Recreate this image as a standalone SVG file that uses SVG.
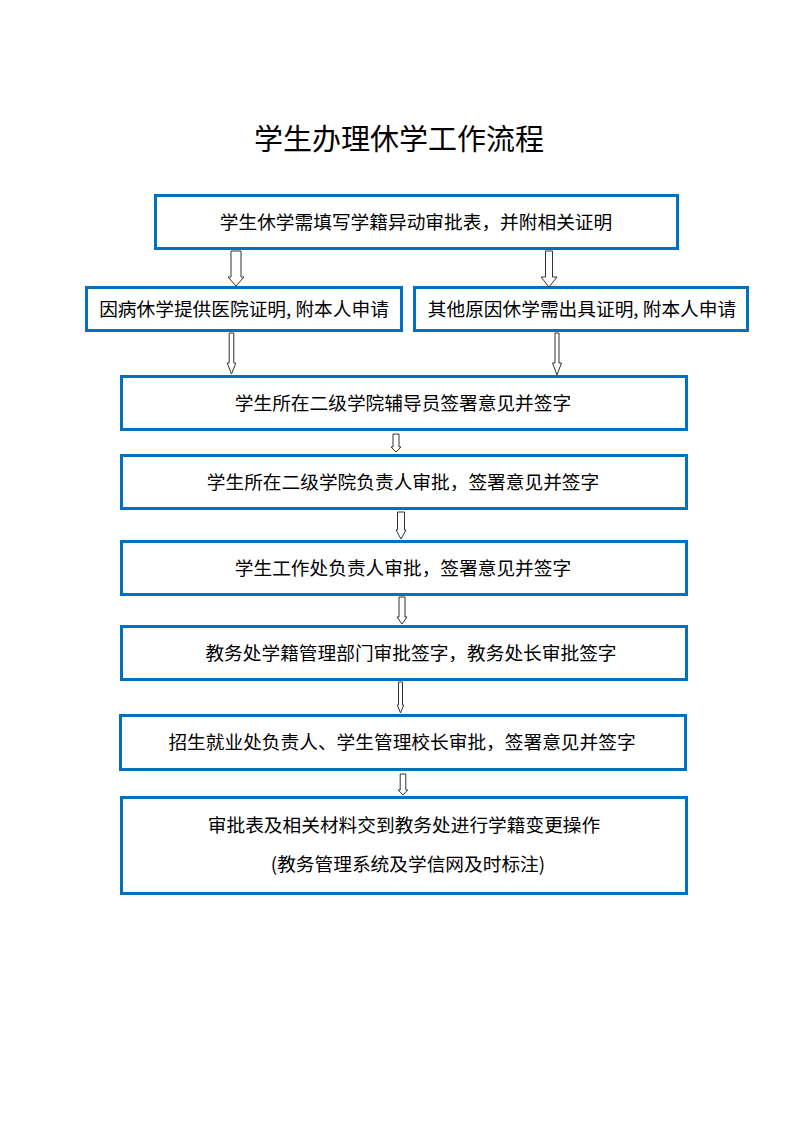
<svg xmlns="http://www.w3.org/2000/svg" width="793" height="1122" viewBox="0 0 793 1122">
<style>
.box{fill:#fff;stroke:#0070C0;stroke-width:3}
.t{font-family:"Noto Sans CJK SC","Microsoft YaHei",sans-serif;font-size:18.7px;fill:#000;text-anchor:middle}
.title{font-family:"Noto Sans CJK SC",sans-serif;font-size:29px;fill:#000;text-anchor:middle}
.arr{fill:#fff;stroke:#333;stroke-width:1}
</style>
<rect width="793" height="1122" fill="#fff"/>
<text class="title" x="399" y="150">学生办理休学工作流程</text>
<g id="n1"><rect class="box" x="155.5" y="195.5" width="522" height="53"/><text class="t" x="416" y="228.5">学生休学需填写学籍异动审批表，并附相关证明</text></g>
<g id="n2a"><rect class="box" x="86.5" y="287.5" width="315" height="43"/><text class="t" x="244" y="315.5">因病休学提供医院证明, 附本人申请</text></g>
<g id="n2b"><rect class="box" x="414.5" y="287.5" width="333" height="43"/><text class="t" x="582" y="315.5">其他原因休学需出具证明, 附本人申请</text></g>
<g id="n3"><rect class="box" x="121.5" y="376.5" width="565" height="53"/><text class="t" x="403" y="409.5">学生所在二级学院辅导员签署意见并签字</text></g>
<g id="n4"><rect class="box" x="121.5" y="455.5" width="565" height="53"/><text class="t" x="403" y="488.5">学生所在二级学院负责人审批，签署意见并签字</text></g>
<g id="n5"><rect class="box" x="121.5" y="541.5" width="565" height="53"/><text class="t" x="403" y="574.5">学生工作处负责人审批，签署意见并签字</text></g>
<g id="n6"><rect class="box" x="121.5" y="626.5" width="565" height="53"/><text class="t" x="411" y="659.5">教务处学籍管理部门审批签字，教务处长审批签字</text></g>
<g id="n7"><rect class="box" x="120.5" y="715.5" width="565" height="54"/><text class="t" x="402" y="749">招生就业处负责人、学生管理校长审批，签署意见并签字</text></g>
<g id="n8"><rect class="box" x="121.5" y="797.5" width="565" height="96"/><text class="t" x="404" y="831.5">审批表及相关材料交到教务处进行学籍变更操作</text><text class="t" x="408" y="871">(教务管理系统及学信网及时标注)</text></g>
<g id="connectors">
<polygon class="arr" points="231,251 241,251 241,277 244,277 236,286 228,277 231,277"/>
<polygon class="arr" points="545.5,251 552.5,251 552.5,277 557,277 549,287 541,277 545.5,277"/>
<polygon class="arr" points="229.2,333 233.8,333 233.8,363 235.8,363 231.5,374 227.2,363 229.2,363"/>
<polygon class="arr" points="555,333 559,333 559,363 561.5,363 557,375 552.5,363 555,363"/>
<polygon class="arr" points="393,434 399,434 399,447 401,447 396,452 391,447 393,447"/>
<polygon class="arr" points="397.5,512 404.5,512 404.5,530 406,530 401,539 396,530 397.5,530"/>
<polygon class="arr" points="399,597 405,597 405,617 407,617 402,624 397,617 399,617"/>
<polygon class="arr" points="398.5,682 402.5,682 402.5,705 403.7,705 400.5,713 397.3,705 398.5,705"/>
<polygon class="arr" points="400.2,774 405.8,774 405.8,790 407.8,790 403,795 398.2,790 400.2,790"/>
</g>
</svg>
